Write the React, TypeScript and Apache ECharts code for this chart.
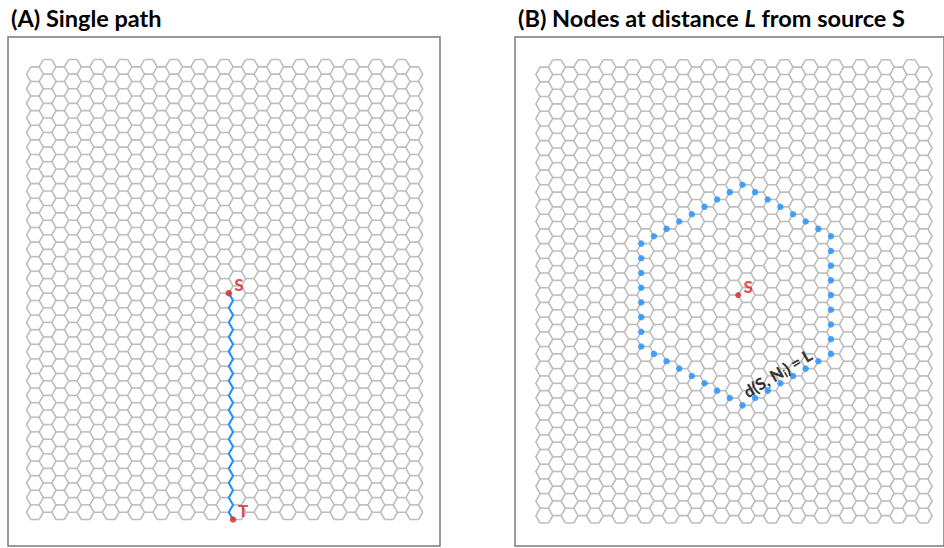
import React, { useEffect, useRef } from "react";
import * as echarts from "echarts";

// ---- Data ----
const HEX_ROWS = 31; // hexagons per column (m)
const HEX_COLS = 31; // hexagon columns (n)
const SOURCE_NODE: [number, number] = [16, 31];
const TARGET_NODE: [number, number] = [16, 0];
const RING_DISTANCE = 15;
const TITLE_A = "(A) Single path";
const TITLE_B = "(B) Nodes at distance {it|L} from source S";
const DIST_LABEL = "d(S, N{sub|i}) = L";
const DIST_LABEL_AT: [number, number] = [28.7, 17.6];

// ---- Lattice helpers (networkx hexagonal_lattice_graph layout) ----
const M = 2 * HEX_ROWS;
const removed = new Set<string>([
  `0,${M + 1}`,
  `${HEX_COLS},${(M + 1) * (HEX_COLS % 2)}`,
]);
const key = (i: number, j: number) => `${i},${j}`;
const exists = (i: number, j: number) =>
  i >= 0 && i <= HEX_COLS && j >= 0 && j <= M + 1 && !removed.has(key(i, j));
const pos = (i: number, j: number): [number, number] => [
  0.5 + i + Math.floor(i / 2) + (j % 2) * ((i % 2) - 0.5),
  (Math.sqrt(3) / 2) * j,
];

function buildLattice() {
  const polylines: { coords: [number, number][] }[] = [];
  const adj = new Map<string, string[]>();
  const link = (a: string, b: string) => {
    if (!adj.has(a)) adj.set(a, []);
    if (!adj.has(b)) adj.set(b, []);
    adj.get(a)!.push(b);
    adj.get(b)!.push(a);
  };
  for (let i = 0; i <= HEX_COLS; i++) {
    const coords: [number, number][] = [];
    for (let j = 0; j <= M + 1; j++) {
      if (exists(i, j)) {
        coords.push(pos(i, j));
        if (exists(i, j + 1)) link(key(i, j), key(i, j + 1));
      }
    }
    polylines.push({ coords });
  }
  for (let i = 0; i < HEX_COLS; i++) {
    for (let j = 0; j <= M + 1; j++) {
      if (i % 2 === j % 2 && exists(i, j) && exists(i + 1, j)) {
        polylines.push({ coords: [pos(i, j), pos(i + 1, j)] });
        link(key(i, j), key(i + 1, j));
      }
    }
  }
  return { polylines, adj };
}

function ringNodes(adj: Map<string, string[]>, src: [number, number], L: number) {
  const dist = new Map<string, number>();
  const s = key(src[0], src[1]);
  dist.set(s, 0);
  const q = [s];
  while (q.length) {
    const u = q.shift()!;
    const d = dist.get(u)!;
    for (const v of adj.get(u) || []) {
      if (!dist.has(v)) {
        dist.set(v, d + 1);
        q.push(v);
      }
    }
  }
  const out: [number, number][] = [];
  dist.forEach((d, k) => {
    if (d === L) {
      const [i, j] = k.split(",").map(Number);
      out.push(pos(i, j));
    }
  });
  return out;
}

function pathCoords(a: [number, number], b: [number, number]) {
  const coords: [number, number][] = [];
  const step = b[1] >= a[1] ? 1 : -1;
  for (let j = a[1]; j !== b[1] + step; j += step) coords.push(pos(a[0], j));
  return coords;
}

export default function App() {
  const ref = useRef<HTMLDivElement>(null);
  useEffect(() => {
    if (!ref.current) return;
    const chart = echarts.init(ref.current, undefined, { renderer: "svg" });
    const { polylines, adj } = buildLattice();
    const ring = ringNodes(adj, SOURCE_NODE, RING_DISTANCE);

    // panel geometry: box left, pixel scale, data origin px
    const extent = (boxLeft: number, k: number, x0: number, y0: number) => {
      const xmin = (boxLeft - x0) / k;
      const ymin = -(546 - y0) / k;
      return { xmin, xmax: xmin + 432 / k, ymin, ymax: ymin + 509 / k };
    };
    const eA = extent(8, 8.43, 26.5, 519.5);
    const eB = extent(515, 8.49, 536, 523);

    const font = "Lato, 'Noto Sans', sans-serif";
    const red = "#d62728";
    const blue = "#1e90ff";
    const gray = "#bdbdbd";

    const gridBase = {
      top: 37,
      width: 432,
      height: 509,
      show: true,
      borderColor: "#7a7a7a",
      borderWidth: 1.5,
      backgroundColor: "transparent",
    };
    const axis = (g: number, min: number, max: number) => ({
      type: "value",
      gridIndex: g,
      min,
      max,
      show: false,
      splitLine: { show: false },
    });
    const nodeLabel = (text: string) => ({
      show: true,
      formatter: text,
      position: "inside",
      offset: [10, -9],
      color: red,
      fontWeight: 900,
      fontSize: 17,
      fontFamily: font,
    });
    const titleStyle = { fontSize: 23.5, fontWeight: "bold", color: "#000", fontFamily: font };

    chart.setOption({
      animation: false,
      title: [
        { text: TITLE_A, left: 6, top: 1, textStyle: titleStyle },
        {
          text: TITLE_B,
          left: 513,
          top: 1,
          textStyle: {
            ...titleStyle,
            rich: { it: { ...titleStyle, fontStyle: "italic" } },
          },
        },
      ],
      grid: [
        { ...gridBase, left: 8 },
        { ...gridBase, left: 515 },
      ],
      xAxis: [axis(0, eA.xmin, eA.xmax), axis(1, eB.xmin, eB.xmax)],
      yAxis: [axis(0, eA.ymin, eA.ymax), axis(1, eB.ymin, eB.ymax)],
      series: [
        {
          type: "lines",
          coordinateSystem: "cartesian2d",
          xAxisIndex: 0,
          yAxisIndex: 0,
          polyline: true,
          silent: true,
          data: polylines,
          lineStyle: { color: gray, width: 1.6, opacity: 1 },
        },
        {
          type: "lines",
          coordinateSystem: "cartesian2d",
          xAxisIndex: 1,
          yAxisIndex: 1,
          polyline: true,
          silent: true,
          data: polylines,
          lineStyle: { color: gray, width: 1.6, opacity: 1 },
        },
        {
          type: "lines",
          coordinateSystem: "cartesian2d",
          xAxisIndex: 0,
          yAxisIndex: 0,
          polyline: true,
          silent: true,
          data: [{ coords: pathCoords(SOURCE_NODE, TARGET_NODE) }],
          lineStyle: { color: blue, width: 2, opacity: 1 },
        },
        {
          type: "scatter",
          xAxisIndex: 0,
          yAxisIndex: 0,
          symbolSize: 6.5,
          itemStyle: { color: red },
          data: [
            { value: pos(...SOURCE_NODE), label: nodeLabel("S") },
            { value: pos(...TARGET_NODE), label: nodeLabel("T") },
          ],
        },
        {
          type: "scatter",
          xAxisIndex: 1,
          yAxisIndex: 1,
          symbolSize: 6.5,
          itemStyle: { color: blue },
          data: ring,
        },
        {
          type: "scatter",
          xAxisIndex: 1,
          yAxisIndex: 1,
          symbolSize: 6,
          itemStyle: { color: red },
          data: [{ value: pos(...SOURCE_NODE), label: nodeLabel("S") }],
        },
        {
          type: "scatter",
          xAxisIndex: 1,
          yAxisIndex: 1,
          symbolSize: 0,
          data: [
            {
              value: DIST_LABEL_AT,
              label: {
                show: true,
                formatter: DIST_LABEL,
                position: "inside",
                rotate: 31,
                color: "#000",
                fontWeight: 900,
                fontSize: 16.5,
                fontFamily: font,
                rich: {
                  sub: {
                    fontSize: 11,
                    fontWeight: 900,
                    color: "#000",
                    fontFamily: font,
                    verticalAlign: "bottom",
                    padding: [7, 0, 0, 0],
                  },
                },
              },
            },
          ],
        },
      ],
    });
    return () => chart.dispose();
  }, []);
  return (
    <div
      ref={ref}
      style={{ position: "fixed", left: 0, top: 0, width: 944, height: 548, background: "#fff" }}
    />
  );
}
